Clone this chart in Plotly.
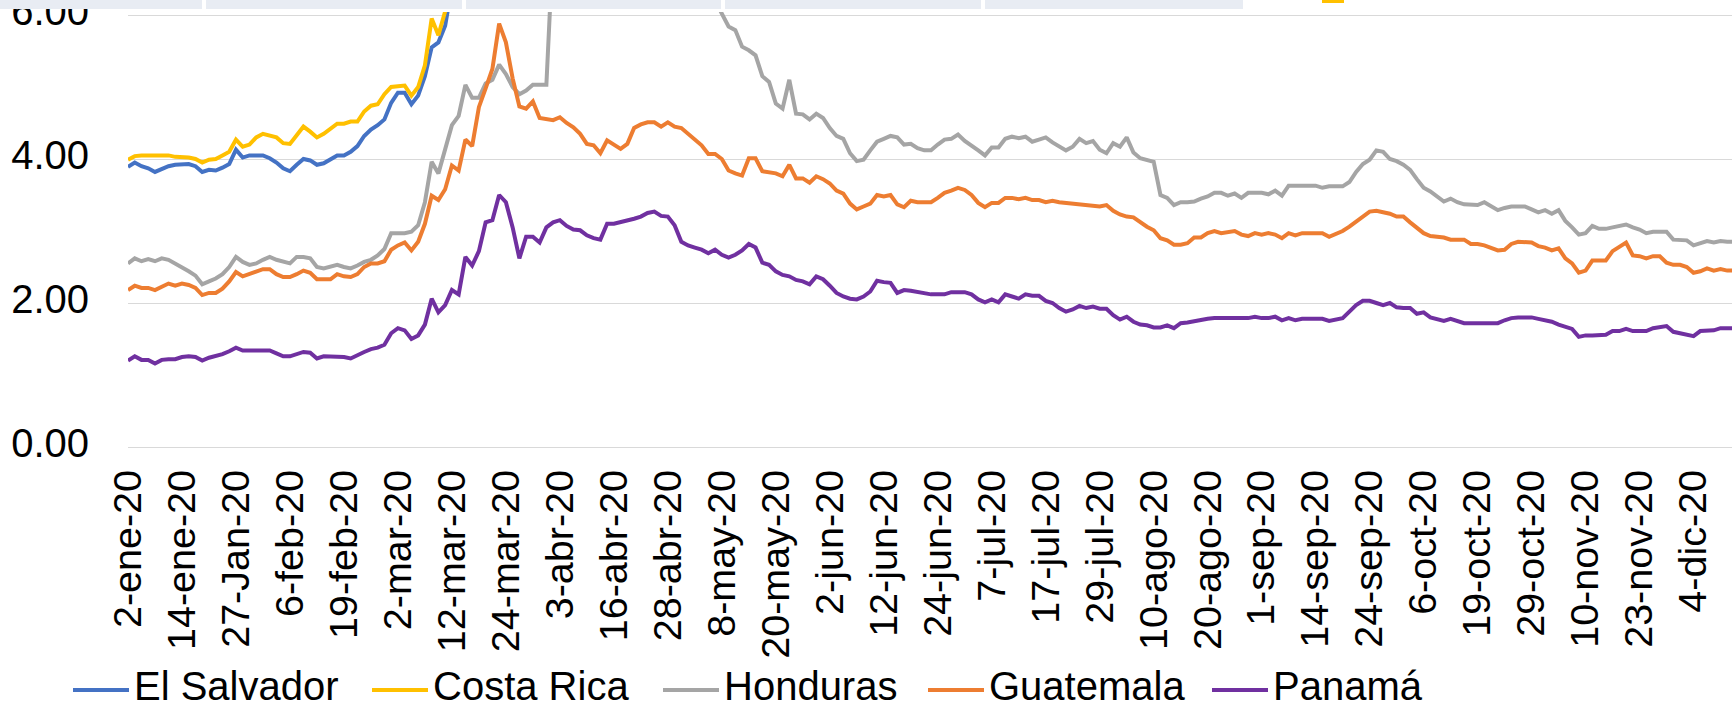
import pandas as pd
import plotly.graph_objects as go

# ---------------- data ----------------
HOLIDAYS = ["2020-01-20", "2020-02-17", "2020-04-10", "2020-05-25", "2020-07-03",
            "2020-09-07", "2020-10-12", "2020-11-11", "2020-11-26"]
DATES = pd.bdate_range("2020-01-02", "2020-12-14", freq="C", holidays=HOLIDAYS)
CATEGORIES = [d.strftime("%Y-%m-%d") for d in DATES]

TICK_LABELS = ["2-ene-20", "14-ene-20", "27-Jan-20", "6-feb-20", "19-feb-20", "2-mar-20",
               "12-mar-20", "24-mar-20", "3-abr-20", "16-abr-20", "28-abr-20", "8-may-20",
               "20-may-20", "2-jun-20", "12-jun-20", "24-jun-20", "7-jul-20", "17-jul-20",
               "29-jul-20", "10-ago-20", "20-ago-20", "1-sep-20", "14-sep-20", "24-sep-20",
               "6-oct-20", "19-oct-20", "29-oct-20", "10-nov-20", "23-nov-20", "4-dic-20"]

el_salvador = [
    3.89, 3.95, 3.90, 3.87, 3.82, 3.86, 3.90, 3.92, 3.92, 3.93,
    3.90, 3.82, 3.85, 3.84, 3.88, 3.93, 4.13, 4.02, 4.05, 4.05,
    4.05, 4.01, 3.95, 3.87, 3.83, 3.92, 4.00, 3.98, 3.92, 3.94,
    4.00, 4.05, 4.05, 4.10, 4.18, 4.32, 4.41, 4.47, 4.55, 4.78,
    4.92, 4.92, 4.76, 4.88, 5.15, 5.55, 5.62, 5.85, 6.40, 6.90,
    7.50, 7.80, 8.60, 9.10, 9.60, 10.20, 10.00, 9.70, 9.40, 9.50,
    9.80, 10.10, 10.30, 10.50, 10.80, 10.90, 10.60, 10.40, 10.20, 10.00,
    9.90, 9.70, 9.80, 9.90, 9.60, 9.40, 9.30, 9.20, 9.30, 9.10,
    9.00, 9.10, 9.30, 9.40, 9.20, 9.00, 8.90, 8.80, 8.90, 8.70,
    8.60, 8.50, 8.40, 8.50, 8.30, 8.20, 8.10, 8.00, 8.10, 7.90,
    7.80, 7.70, 7.80, 7.70, 7.60, 7.50, 7.40, 7.30, 7.40, 7.50,
    7.60, 7.50, 7.40, 7.50, 7.60, 7.50, 7.40, 7.40, 7.30, 7.30,
    7.40, 7.50, 7.40, 7.30, 7.30, 7.20, 7.20, 7.30, 7.40, 7.30,
    7.30, 7.20, 7.20, 7.10, 7.20, 7.30, 7.20, 7.20, 7.10, 7.20,
    7.30, 7.40, 7.40, 7.50, 7.60, 7.60, 7.70, 7.80, 7.70, 7.80,
    7.90, 8.00, 8.00, 7.90, 7.80, 7.80, 7.90, 8.00, 8.10, 8.20,
    8.20, 8.30, 8.40, 8.50, 8.40, 8.50, 8.60, 8.70, 8.80, 8.90,
    9.00, 9.10, 9.20, 9.10, 9.30, 9.50, 9.60, 9.80, 9.70, 9.90,
    10.00, 10.20, 10.40, 10.60, 10.50, 10.70, 10.90, 11.00, 10.80, 10.60,
    10.40, 10.20, 10.00, 9.90, 9.70, 9.50, 9.40, 9.30, 9.20, 9.10,
    9.00, 9.20, 9.10, 9.00, 8.90, 8.80, 8.70, 8.60, 8.50, 8.40,
    8.30, 8.20, 8.10, 8.00, 7.90, 7.80, 7.80, 7.70, 7.80, 7.70,
    7.60, 7.50, 7.60, 7.50, 7.40, 7.50, 7.40, 7.30, 7.40, 7.30,
    7.20, 7.30, 7.20, 7.10, 7.20, 7.10, 7.00, 7.10, 7.00,
]

costa_rica = [
    3.99, 4.04, 4.05, 4.05, 4.05, 4.05, 4.05, 4.03, 4.03, 4.02,
    4.00, 3.95, 3.99, 4.00, 4.05, 4.10, 4.27, 4.17, 4.20, 4.30,
    4.35, 4.32, 4.30, 4.22, 4.21, 4.33, 4.45, 4.38, 4.30, 4.35,
    4.42, 4.49, 4.49, 4.52, 4.52, 4.66, 4.74, 4.76, 4.90, 5.00,
    5.01, 5.02, 4.88, 5.00, 5.30, 5.95, 5.72, 6.05, 6.50, 6.90,
    7.40, 7.60, 8.10, 8.50, 8.90, 9.30, 9.10, 8.80, 8.60, 8.70,
    8.90, 9.00, 9.20, 9.40, 9.50, 9.30, 9.10, 9.00, 8.90, 8.80,
    8.70, 8.60, 8.70, 8.60, 8.50, 8.40, 8.30, 8.20, 8.30, 8.20,
    8.10, 8.20, 8.30, 8.20, 8.10, 8.00, 7.90, 7.80, 7.90, 7.80,
    7.70, 7.60, 7.50, 7.60, 7.50, 7.40, 7.30, 7.20, 7.30, 7.20,
    7.10, 7.00, 7.10, 7.00, 6.90, 6.80, 6.70, 6.60, 6.70, 6.80,
    6.90, 6.80, 6.70, 6.80, 6.90, 6.80, 6.70, 6.70, 6.60, 6.60,
    6.70, 6.80, 6.70, 6.60, 6.60, 6.50, 6.50, 6.60, 6.70, 6.60,
    6.60, 6.50, 6.50, 6.40, 6.50, 6.60, 6.50, 6.50, 6.40, 6.50,
    6.60, 6.70, 6.70, 6.80, 6.90, 6.90, 7.00, 7.10, 7.00, 7.10,
    7.20, 7.30, 7.30, 7.20, 7.10, 7.10, 7.20, 7.30, 7.40, 7.50,
    7.50, 7.60, 7.70, 7.80, 7.70, 7.80, 7.90, 8.00, 8.10, 8.20,
    8.30, 8.40, 8.50, 8.40, 8.60, 8.80, 8.90, 9.10, 9.00, 9.20,
    9.30, 9.50, 9.70, 9.90, 9.80, 10.00, 10.20, 10.30, 10.10, 9.90,
    9.70, 9.50, 9.30, 9.20, 9.00, 8.80, 8.70, 8.60, 8.50, 8.40,
    8.30, 8.50, 8.40, 8.30, 8.20, 8.10, 8.00, 7.90, 7.80, 7.70,
    7.60, 7.50, 7.40, 7.30, 7.20, 7.10, 7.10, 7.00, 7.10, 7.00,
    6.90, 6.80, 6.90, 6.80, 6.70, 6.80, 6.70, 6.60, 6.70, 6.60,
    6.50, 6.60, 6.50, 6.40, 6.50, 6.40, 6.30, 6.40, 6.30,
]

honduras = [
    2.55, 2.62, 2.58, 2.61, 2.58, 2.62, 2.60, 2.55, 2.50, 2.44,
    2.38, 2.26, 2.30, 2.34, 2.40, 2.50, 2.64, 2.57, 2.53, 2.55,
    2.60, 2.64, 2.60, 2.57, 2.55, 2.64, 2.64, 2.62, 2.50, 2.48,
    2.50, 2.53, 2.50, 2.48, 2.52, 2.57, 2.60, 2.66, 2.75, 2.97,
    2.97, 2.97, 2.99, 3.08, 3.40, 3.96, 3.80, 4.15, 4.47, 4.60,
    5.03, 4.85, 4.85, 5.05, 5.10, 5.31, 5.18, 5.00, 4.90, 4.95,
    5.03, 5.03, 5.03, 7.00, 7.60, 7.90, 8.10, 8.00, 7.80, 7.90,
    8.10, 8.00, 7.80, 7.70, 7.60, 7.50, 7.40, 7.30, 7.20, 7.00,
    6.90, 6.80, 6.70, 6.60, 6.50, 6.40, 6.30, 6.20, 6.02, 5.84,
    5.79, 5.56, 5.51, 5.44, 5.15, 5.07, 4.77, 4.70, 5.10, 4.63,
    4.62, 4.55, 4.63, 4.57, 4.43, 4.32, 4.28, 4.08, 3.97, 3.99,
    4.12, 4.24, 4.28, 4.32, 4.30, 4.20, 4.21, 4.15, 4.12, 4.12,
    4.20, 4.27, 4.28, 4.34, 4.25, 4.19, 4.12, 4.05, 4.16, 4.16,
    4.28, 4.31, 4.29, 4.31, 4.24, 4.27, 4.30, 4.23, 4.18, 4.12,
    4.17, 4.28, 4.22, 4.25, 4.13, 4.08, 4.22, 4.17, 4.30, 4.09,
    4.01, 3.99, 3.96, 3.50, 3.46, 3.36, 3.40, 3.40, 3.41, 3.45,
    3.48, 3.53, 3.53, 3.49, 3.52, 3.46, 3.53, 3.53, 3.53, 3.51,
    3.56, 3.49, 3.63, 3.63, 3.63, 3.63, 3.63, 3.60, 3.62, 3.62,
    3.62, 3.68, 3.82, 3.93, 3.99, 4.12, 4.10, 4.00, 3.97, 3.92,
    3.85, 3.72, 3.60, 3.55, 3.48, 3.41, 3.45, 3.40, 3.37, 3.36,
    3.36, 3.40, 3.35, 3.29, 3.32, 3.34, 3.34, 3.34, 3.30, 3.26,
    3.29, 3.24, 3.29, 3.14, 3.05, 2.95, 2.97, 3.07, 3.03, 3.03,
    3.05, 3.07, 3.09, 3.05, 3.02, 2.97, 2.99, 2.99, 2.99, 2.88,
    2.88, 2.87, 2.80, 2.83, 2.86, 2.84, 2.86, 2.85, 2.85,
]

guatemala = [
    2.18, 2.24, 2.21, 2.21, 2.18, 2.23, 2.27, 2.24, 2.27, 2.25,
    2.21, 2.11, 2.14, 2.14, 2.20, 2.30, 2.43, 2.37, 2.40, 2.43,
    2.47, 2.47, 2.40, 2.36, 2.36, 2.40, 2.45, 2.42, 2.33, 2.33,
    2.33, 2.40, 2.37, 2.36, 2.40, 2.50, 2.55, 2.55, 2.58, 2.74,
    2.80, 2.84, 2.73, 2.85, 3.10, 3.49, 3.43, 3.58, 3.91, 3.84,
    4.27, 4.18, 4.72, 4.98, 5.25, 5.88, 5.62, 5.12, 4.73, 4.70,
    4.80, 4.57, 4.55, 4.54, 4.58, 4.50, 4.44, 4.35, 4.21, 4.19,
    4.08, 4.26, 4.20, 4.14, 4.21, 4.43, 4.48, 4.51, 4.51, 4.45,
    4.51, 4.45, 4.43, 4.35, 4.28, 4.19, 4.07, 4.07, 4.00, 3.84,
    3.80, 3.77, 4.01, 4.01, 3.83, 3.82, 3.80, 3.76, 3.92, 3.73,
    3.73, 3.67, 3.76, 3.72, 3.66, 3.56, 3.52, 3.38, 3.30, 3.34,
    3.38, 3.50, 3.48, 3.50, 3.37, 3.33, 3.42, 3.40, 3.40, 3.40,
    3.46, 3.53, 3.56, 3.60, 3.57, 3.50, 3.39, 3.33, 3.39, 3.39,
    3.46, 3.46, 3.44, 3.46, 3.43, 3.43, 3.40, 3.42, 3.40, 3.39,
    3.38, 3.38, 3.36, 3.35, 3.34, 3.36, 3.28, 3.23, 3.20, 3.19,
    3.12, 3.06, 3.01, 2.90, 2.87, 2.81, 2.81, 2.83, 2.91, 2.91,
    2.97, 3.00, 2.97, 2.99, 3.00, 2.95, 2.93, 2.97, 2.95, 2.97,
    2.95, 2.90, 2.97, 2.94, 2.97, 2.97, 2.97, 2.97, 2.92, 2.96,
    3.00, 3.06, 3.13, 3.19, 3.27, 3.28, 3.26, 3.24, 3.20, 3.20,
    3.12, 3.05, 2.97, 2.93, 2.92, 2.91, 2.88, 2.88, 2.88, 2.82,
    2.82, 2.80, 2.77, 2.73, 2.74, 2.82, 2.85, 2.84, 2.84, 2.79,
    2.77, 2.73, 2.76, 2.62, 2.55, 2.42, 2.45, 2.59, 2.59, 2.59,
    2.72, 2.78, 2.84, 2.66, 2.65, 2.62, 2.65, 2.65, 2.56, 2.53,
    2.53, 2.50, 2.42, 2.44, 2.48, 2.45, 2.47, 2.45, 2.45,
]

panama = [
    1.20, 1.26, 1.21, 1.21, 1.16, 1.21, 1.22, 1.22, 1.25, 1.26,
    1.25, 1.20, 1.24, 1.26, 1.29, 1.33, 1.38, 1.34, 1.34, 1.34,
    1.34, 1.34, 1.30, 1.26, 1.26, 1.29, 1.32, 1.31, 1.23, 1.26,
    1.26, 1.26, 1.25, 1.23, 1.28, 1.32, 1.36, 1.38, 1.42, 1.58,
    1.65, 1.62, 1.50, 1.55, 1.70, 2.06, 1.87, 1.97, 2.18, 2.12,
    2.64, 2.52, 2.72, 3.12, 3.15, 3.50, 3.40, 3.05, 2.62, 2.92,
    2.92, 2.84, 3.05, 3.12, 3.15, 3.07, 3.02, 3.01, 2.94, 2.90,
    2.88, 3.10, 3.10, 3.12, 3.15, 3.17, 3.20, 3.25, 3.27, 3.21,
    3.20, 3.08, 2.85, 2.80, 2.77, 2.74, 2.69, 2.74, 2.67, 2.63,
    2.67, 2.73, 2.82, 2.77, 2.56, 2.53, 2.44, 2.39, 2.37, 2.32,
    2.30, 2.26, 2.37, 2.33, 2.24, 2.14, 2.09, 2.06, 2.05, 2.09,
    2.16, 2.31, 2.29, 2.28, 2.14, 2.18, 2.17, 2.15, 2.13, 2.12,
    2.12, 2.12, 2.15, 2.15, 2.15, 2.12, 2.05, 2.01, 2.05, 2.01,
    2.12, 2.09, 2.06, 2.12, 2.10, 2.10, 2.03, 2.00, 1.93, 1.88,
    1.91, 1.96, 1.93, 1.95, 1.92, 1.92, 1.83, 1.77, 1.81, 1.74,
    1.70, 1.69, 1.66, 1.66, 1.69, 1.65, 1.72, 1.73, 1.75, 1.76,
    1.78, 1.79, 1.79, 1.79, 1.79, 1.79, 1.79, 1.81, 1.79, 1.79,
    1.81, 1.76, 1.79, 1.76, 1.78, 1.78, 1.78, 1.78, 1.75, 1.77,
    1.79, 1.88, 1.97, 2.03, 2.03, 2.00, 1.97, 2.00, 1.94, 1.93,
    1.93, 1.85, 1.87, 1.80, 1.77, 1.75, 1.78, 1.75, 1.72, 1.72,
    1.72, 1.72, 1.72, 1.72, 1.76, 1.79, 1.80, 1.80, 1.80, 1.78,
    1.76, 1.74, 1.70, 1.67, 1.64, 1.53, 1.55, 1.55, 1.55, 1.56,
    1.61, 1.61, 1.64, 1.61, 1.61, 1.61, 1.65, 1.67, 1.68, 1.60,
    1.58, 1.57, 1.54, 1.61, 1.62, 1.62, 1.65, 1.65, 1.65,
]

SERIES_NAMES = ["El Salvador", "Costa Rica", "Honduras", "Guatemala", "Panamá"]
SERIES_VALUES = [el_salvador, costa_rica, honduras, guatemala, panama]
COLORS = ["#4472C4", "#FFC000", "#A5A5A5", "#ED7D31", "#7030A0"]
Y_TICKS = [0, 2, 4, 6]
Y_TICK_TEXT = ["0.00", "2.00", "4.00", "6.00"]

# ---------------- layout geometry (pixels) ----------------
W, H = 1732, 703
PL, PT, PB = 128, 12, 447            # plot area left / top / bottom (px)
PW, PH = W - PL, PB - PT
PX_PER_CAT = 6.748
FONT = "Liberation Sans, Arial, sans-serif"

def xp(px):
    return (px - PL) / PW

def yp(py):
    return (PB - py) / PH

n = min(len(CATEGORIES), *[len(s) for s in SERIES_VALUES])
cats = CATEGORIES[:n]

fig = go.Figure()
for name, vals, col in zip(SERIES_NAMES, SERIES_VALUES, COLORS):
    fig.add_trace(go.Scatter(
        x=cats, y=vals[:n], mode="lines", name=name,
        line=dict(color=col, width=4), showlegend=False))

tickvals = cats[::8][:len(TICK_LABELS)]

fig.update_layout(
    width=W, height=H,
    margin=dict(l=PL, r=0, t=PT, b=H - PB, pad=0),
    paper_bgcolor="white", plot_bgcolor="white",
    font=dict(family=FONT, color="#000000"),
    xaxis=dict(
        type="category", categoryorder="array", categoryarray=cats,
        range=[0, PW / PX_PER_CAT],
        tickmode="array", tickvals=tickvals, ticktext=TICK_LABELS,
        tickangle=-90, tickfont=dict(size=39.5, family=FONT, color="#000000"),
        showgrid=False, showline=True, linecolor="#D9D9D9", linewidth=1.3,
        ticks="", ticklabelstandoff=6, automargin=False, zeroline=False),
    yaxis=dict(
        range=[0, PH / 72.0],
        tickmode="array", tickvals=Y_TICKS, ticktext=Y_TICK_TEXT,
        tickfont=dict(size=40, family=FONT, color="#000000"),
        showgrid=True, gridcolor="#D9D9D9", gridwidth=1.3,
        zeroline=False, showline=False, ticks="",
        ticklabelstandoff=38, ticklabelshift=-4, ticklabeloverflow="allow",
        automargin=False),
)

# custom legend (line sample + text), as in the original
LEGEND_X = [73, 372, 663, 928, 1212]
LEGEND_Y = 690
shapes = []
annotations = []
for name, col, lx in zip(SERIES_NAMES, COLORS, LEGEND_X):
    shapes.append(dict(type="line", xref="paper", yref="paper",
                       x0=xp(lx), x1=xp(lx + 56), y0=yp(LEGEND_Y), y1=yp(LEGEND_Y),
                       line=dict(color=col, width=4)))
    annotations.append(dict(text=name, xref="paper", yref="paper",
                            x=xp(lx + 59), y=yp(686), xanchor="left", yanchor="middle",
                            showarrow=False, font=dict(size=40, family=FONT, color="#000000")))

# spreadsheet header strip cropped at the top of the picture (drawn over the axis labels)
STRIP_CELLS = [(0, 202), (206, 462), (466, 721), (725, 981), (985, 1243)]
STRIP_H = 9
for a, b in STRIP_CELLS:
    annotations.append(dict(text=" ", xref="paper", yref="paper",
                            x=xp(a), y=yp(0), xanchor="left", yanchor="top",
                            width=b - a, height=STRIP_H, borderpad=0, borderwidth=0,
                            bgcolor="#E8ECF3", showarrow=False, font=dict(size=2)))
annotations.append(dict(text=" ", xref="paper", yref="paper",
                        x=xp(1322), y=yp(0), xanchor="left", yanchor="top",
                        width=22, height=3, borderpad=0, borderwidth=0,
                        bgcolor="#FFC000", showarrow=False, font=dict(size=2)))

fig.update_layout(shapes=shapes, annotations=annotations)
fig.write_html(
    "out.html",
    config={"displayModeBar": False},
    post_script="document.body.style.margin='0px';document.body.style.overflow='hidden';",
)
